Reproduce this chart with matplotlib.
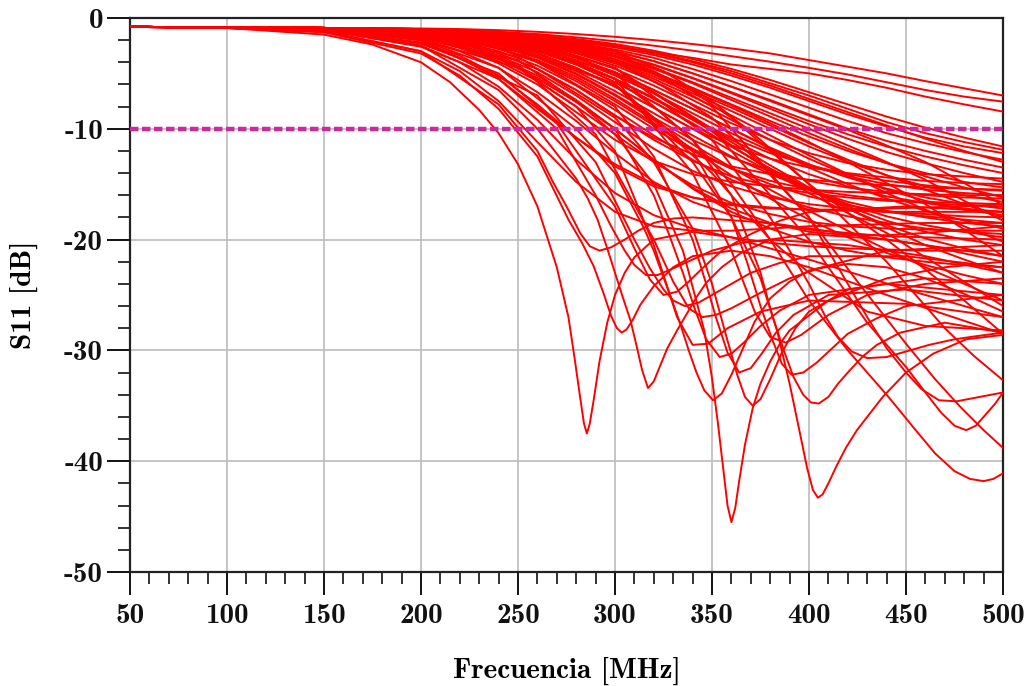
import numpy as np
import matplotlib.pyplot as plt
from matplotlib.ticker import MultipleLocator

plt.rcParams['font.family'] = 'cmb10'
plt.rcParams['axes.unicode_minus'] = False

# common frequency grid (MHz) for the smooth roll-off curves
freq_grid = [50, 100, 150, 200, 220, 240, 260, 280, 300, 320, 340, 360, 380, 400, 420, 440, 460, 480, 500]

# S11 (dB) of the curves that roll off and flatten, one row per curve
s11_bundle = [
    [-0.8, -0.85, -0.9, -0.95, -1.0, -1.1, -1.25, -1.45, -1.7, -2.0, -2.35, -2.75, -3.2, -3.8, -4.4, -5.0, -5.7, -6.35, -7.0],
    [-0.8, -0.85, -0.9, -1.0, -1.1, -1.25, -1.45, -1.75, -2.1, -2.5, -2.95, -3.45, -3.95, -4.5, -5.1, -5.8, -6.5, -7.1, -7.55],
    [-0.8, -0.85, -0.95, -1.1, -1.25, -1.5, -1.8, -2.2, -2.6, -3.1, -3.6, -4.2, -4.6, -5.0, -5.6, -6.3, -7.1, -7.8, -8.45],
    [-0.8, -0.9, -1.2, -3.0, -4.8, -7.5, -11.2, -14.8, -17.5, -18.8, -19.2, -19.2, -19.0, -18.8, -18.7, -18.6, -18.5, -18.5, -18.5],
    [-0.8, -0.9, -1.1, -2.6, -4.0, -6.2, -9.2, -12.8, -15.8, -17.8, -19.0, -19.8, -20.3, -20.6, -20.8, -20.9, -21.0, -21.0, -21.0],
    [-0.8, -0.9, -1.1, -2.2, -3.4, -5.2, -7.8, -10.8, -13.4, -15.2, -16.2, -16.8, -17.1, -17.3, -17.4, -17.5, -17.5, -17.5, -17.5],
    [-0.8, -0.85, -1.05, -2.0, -3.0, -4.5, -6.7, -9.3, -12.2, -14.8, -16.6, -17.8, -18.6, -19.1, -19.4, -19.7, -19.8, -19.9, -20.0],
    [-0.8, -0.85, -1.0, -1.8, -2.7, -4.1, -6.0, -8.5, -11.0, -12.9, -14.1, -14.8, -15.2, -15.5, -15.7, -15.8, -15.9, -16.0, -16.0],
    [-0.8, -0.85, -1.0, -1.7, -2.5, -3.7, -5.4, -7.6, -10.0, -12.8, -15.4, -17.5, -19.0, -20.2, -21.0, -21.6, -22.0, -22.3, -22.5],
    [-0.8, -0.85, -1.0, -1.6, -2.3, -3.4, -4.9, -7.0, -9.4, -11.8, -13.8, -15.2, -16.2, -16.8, -17.2, -17.5, -17.7, -17.9, -18.0],
    [-0.8, -0.85, -1.0, -1.5, -2.2, -3.2, -4.6, -6.5, -8.8, -10.8, -12.3, -13.4, -14.1, -14.6, -14.9, -15.1, -15.3, -15.4, -15.5],
    [-0.8, -0.85, -0.95, -1.5, -2.1, -3.0, -4.3, -6.1, -8.3, -10.6, -12.8, -14.6, -16.0, -17.1, -17.9, -18.5, -19.0, -19.3, -19.5],
    [-0.8, -0.85, -0.95, -1.4, -2.0, -2.8, -4.0, -5.7, -7.8, -10.0, -12.0, -13.6, -14.7, -15.5, -16.0, -16.4, -16.7, -16.9, -17.0],
    [-0.8, -0.85, -0.95, -1.4, -1.9, -2.7, -3.8, -5.3, -7.3, -9.5, -11.9, -14.2, -16.3, -18.2, -19.8, -21.2, -22.3, -23.2, -24.0],
    [-0.8, -0.85, -0.95, -1.3, -1.8, -2.5, -3.5, -5.0, -6.9, -9.0, -11.0, -12.6, -13.8, -14.7, -15.3, -15.7, -16.0, -16.2, -16.3],
    [-0.8, -0.85, -0.95, -1.3, -1.75, -2.4, -3.4, -4.8, -6.6, -8.6, -10.6, -12.5, -14.1, -15.5, -16.6, -17.4, -18.0, -18.5, -18.8],
    [-0.8, -0.85, -0.95, -1.25, -1.7, -2.3, -3.2, -4.5, -6.2, -8.1, -10.0, -11.5, -12.7, -13.5, -14.0, -14.4, -14.7, -14.9, -15.0],
    [-0.8, -0.85, -0.95, -1.2, -1.6, -2.2, -3.0, -4.2, -5.8, -7.6, -9.5, -11.6, -13.6, -15.4, -17.0, -18.3, -19.3, -20.0, -20.5],
    [-0.8, -0.85, -0.95, -1.2, -1.55, -2.1, -2.9, -4.0, -5.5, -7.2, -9.1, -11.0, -12.7, -14.1, -15.2, -16.1, -16.7, -17.2, -17.5],
    [-0.8, -0.85, -0.9, -1.15, -1.5, -2.0, -2.7, -3.8, -5.2, -6.8, -8.6, -10.4, -12.0, -13.3, -14.3, -15.0, -15.5, -15.8, -16.0],
    [-0.8, -0.85, -0.9, -1.15, -1.45, -1.9, -2.6, -3.6, -4.9, -6.5, -8.2, -10.0, -11.8, -13.5, -15.0, -16.3, -17.4, -18.3, -19.0],
    [-0.8, -0.85, -0.9, -1.1, -1.4, -1.85, -2.5, -3.4, -4.6, -6.1, -7.8, -9.5, -11.0, -12.2, -13.1, -13.7, -14.1, -14.3, -14.5],
    [-0.8, -0.85, -0.9, -1.1, -1.4, -1.8, -2.4, -3.2, -4.3, -5.7, -7.4, -9.2, -11.0, -12.7, -14.2, -15.5, -16.5, -17.3, -17.8],
    [-0.8, -0.85, -0.9, -1.1, -1.35, -1.7, -2.2, -3.0, -4.0, -5.3, -6.8, -8.4, -10.0, -11.6, -13.0, -14.2, -15.2, -16.0, -16.6],
    [-0.8, -0.85, -0.9, -1.05, -1.3, -1.65, -2.1, -2.8, -3.7, -4.9, -6.3, -7.8, -9.3, -10.7, -12.0, -13.1, -14.0, -14.8, -15.3],
    [-0.8, -0.85, -0.9, -1.05, -1.3, -1.6, -2.0, -2.6, -3.4, -4.5, -5.8, -7.2, -8.6, -10.0, -11.5, -13.0, -14.6, -16.5, -18.3],
    [-0.8, -0.85, -0.9, -1.05, -1.25, -1.55, -1.95, -2.5, -3.2, -4.2, -5.4, -6.7, -8.0, -9.3, -10.5, -11.6, -12.5, -13.3, -14.0],
    [-0.8, -0.85, -0.9, -1.0, -1.2, -1.5, -1.85, -2.35, -3.0, -3.9, -5.0, -6.2, -7.4, -8.7, -10.0, -11.1, -12.0, -12.8, -13.5],
    [-0.8, -0.85, -0.9, -1.0, -1.2, -1.45, -1.8, -2.25, -2.85, -3.6, -4.6, -5.7, -6.9, -8.1, -9.3, -10.4, -11.3, -12.1, -12.8],
    [-0.8, -0.85, -0.9, -1.0, -1.15, -1.4, -1.7, -2.1, -2.65, -3.35, -4.2, -5.2, -6.3, -7.5, -8.7, -9.8, -10.8, -11.6, -12.2],
    [-0.8, -0.85, -0.9, -1.0, -1.15, -1.35, -1.65, -2.0, -2.5, -3.1, -3.9, -4.8, -5.9, -7.0, -8.2, -9.4, -10.4, -11.2, -11.9],
    [-0.8, -0.85, -0.9, -1.0, -1.1, -1.3, -1.55, -1.9, -2.35, -2.95, -3.7, -4.6, -5.6, -6.7, -7.8, -8.9, -9.9, -10.8, -11.6],
    [-0.8, -0.85, -0.9, -1.0, -1.1, -1.3, -1.6, -2.0, -2.5, -3.2, -4.0, -5.0, -6.1, -7.3, -8.5, -9.7, -10.9, -12.0, -13.0],
    [-0.8, -0.85, -0.95, -1.3, -1.8, -2.5, -3.6, -5.1, -7.0, -9.2, -11.4, -13.5, -15.5, -17.4, -19.2, -20.9, -22.5, -24.0, -25.5],
    [-0.8, -0.85, -0.9, -1.2, -1.6, -2.1, -2.9, -4.0, -5.5, -7.3, -9.2, -11.2, -13.3, -15.3, -17.2, -18.9, -20.5, -21.8, -23.0],
    [-0.8, -0.85, -0.9, -1.1, -1.35, -1.7, -2.2, -2.9, -3.8, -5.0, -6.4, -7.9, -9.5, -11.2, -13.0, -14.9, -16.8, -19.1, -21.5],
    [-0.8, -0.9, -1.1, -2.3, -3.6, -5.5, -8.2, -10.8, -13.2, -15.0, -16.2, -16.9, -17.2, -17.3, -17.3, -17.2, -17.1, -17.0, -16.8],
    [-0.8, -0.85, -1.0, -1.75, -2.6, -3.9, -5.7, -8.0, -10.5, -13.0, -15.1, -16.7, -17.7, -18.4, -18.8, -19.0, -19.1, -19.2, -19.2],
    [-0.8, -0.85, -1.0, -1.55, -2.2, -3.2, -4.6, -6.5, -8.8, -11.0, -12.9, -14.3, -15.2, -15.8, -16.2, -16.5, -16.6, -16.7, -16.8],
    [-0.8, -0.85, -0.95, -1.4, -1.95, -2.75, -3.9, -5.5, -7.5, -9.7, -11.8, -13.6, -15.0, -16.1, -16.9, -17.5, -17.9, -18.2, -18.5],
    [-0.8, -0.85, -0.95, -1.25, -1.7, -2.3, -3.2, -4.5, -6.2, -8.1, -10.0, -12.0, -13.9, -15.5, -16.8, -17.9, -18.7, -19.3, -19.8],
    [-0.8, -0.85, -0.95, -1.2, -1.55, -2.1, -2.9, -4.0, -5.5, -7.3, -9.1, -10.8, -12.2, -13.3, -14.1, -14.7, -15.1, -15.4, -15.6],
    [-0.8, -0.85, -0.9, -1.15, -1.45, -1.9, -2.6, -3.6, -4.9, -6.5, -8.2, -10.0, -11.7, -13.2, -14.4, -15.4, -16.2, -16.8, -17.2],
    [-0.8, -0.85, -0.9, -1.1, -1.4, -1.75, -2.3, -3.1, -4.1, -5.5, -7.1, -8.8, -10.6, -12.4, -14.1, -15.8, -17.3, -18.8, -20.2],
    [-0.8, -0.85, -0.9, -1.1, -1.35, -1.7, -2.2, -2.9, -3.9, -5.1, -6.6, -8.1, -9.7, -11.3, -12.8, -14.2, -15.5, -16.8, -18.0],
    [-0.8, -0.85, -0.9, -1.05, -1.3, -1.6, -2.05, -2.7, -3.5, -4.6, -5.9, -7.4, -8.9, -10.4, -11.8, -13.1, -14.3, -15.3, -16.2],
    [-0.8, -0.85, -0.9, -1.05, -1.25, -1.55, -1.95, -2.5, -3.25, -4.25, -5.45, -6.8, -8.2, -9.6, -10.9, -12.1, -13.1, -14.0, -14.8],
    [-0.8, -0.85, -0.95, -1.25, -1.65, -2.2, -3.0, -4.2, -5.8, -7.6, -9.6, -11.6, -13.6, -15.5, -17.2, -18.7, -19.9, -20.8, -21.5],
    [-0.8, -0.85, -1.0, -1.7, -2.45, -3.6, -5.2, -7.4, -10.0, -12.8, -15.3, -17.2, -18.5, -19.3, -19.6, -19.6, -19.4, -19.1, -18.8],
    [-0.8, -0.85, -0.9, -1.0, -1.2, -1.5, -1.85, -2.35, -3.0, -3.9, -5.0, -6.2, -7.5, -8.8, -10.1, -11.5, -13.0, -14.9, -16.9],
    [-0.8, -0.85, -0.9, -1.05, -1.3, -1.6, -2.1, -2.8, -3.5, -4.8, -6.6, -9.0, -12.0, -15.0, -17.6, -20.0, -22.7, -25.5, -28.5],
    [-0.8, -0.85, -0.9, -1.1, -1.4, -1.8, -2.5, -3.6, -5.0, -6.8, -9.0, -11.5, -13.8, -15.8, -17.6, -19.4, -21.6, -23.8, -26.0],
]

# curves with a resonance dip: (frequencies MHz, S11 dB)
dip_curves = [
    ([50, 100, 150, 175, 200, 215, 230, 240, 250, 260, 270, 276, 279, 282, 284, 285.5, 287, 289, 292, 296, 300, 305, 310, 320, 340, 360, 400, 450, 500],
     [-0.8, -0.9, -1.5, -2.4, -4.0, -5.8, -8.3, -10.4, -13.2, -17.0, -22.5, -27.0, -30.5, -34.2, -36.6, -37.5, -36.6, -34.5, -31.0, -27.5, -25.0, -23.0, -21.6, -20.0, -19.3, -19.8, -21.8, -24.5, -27.0]),
    ([50, 100, 150, 200, 220, 240, 260, 276, 283, 289, 294, 298, 301, 303.5, 306, 309, 313, 320, 330, 340, 360, 380, 400, 440, 500],
     [-0.8, -0.9, -1.3, -3.2, -5.2, -8.2, -12.5, -18.2, -20.3, -22.4, -24.8, -26.9, -28.0, -28.4, -28.1, -27.3, -25.9, -24.2, -22.5, -21.5, -21.0, -21.5, -22.5, -25.0, -28.5]),
    ([50, 100, 150, 200, 240, 260, 280, 286, 291, 296, 300, 304, 308, 311, 314, 317, 320, 323, 327, 332, 337, 342, 347, 355, 365, 380, 400, 440, 500],
     [-0.8, -0.85, -1.1, -2.5, -6.5, -10.0, -14.5, -16.3, -18.2, -20.8, -23.0, -25.2, -27.3, -29.5, -31.8, -33.4, -32.8, -31.5, -29.8, -28.2, -26.7, -25.2, -23.9, -22.5, -21.2, -20.0, -19.5, -20.0, -21.5]),
    ([50, 100, 150, 200, 240, 280, 300, 315, 320, 325, 330, 334, 338, 342, 346, 350.5, 355, 360, 366, 372, 380, 390, 400, 440, 500],
     [-0.8, -0.85, -1.0, -2.0, -4.5, -10.0, -14.0, -19.0, -21.0, -23.4, -25.8, -27.8, -30.0, -32.0, -33.6, -34.5, -33.9, -32.2, -29.8, -27.4, -25.3, -23.8, -22.8, -21.0, -20.5]),
    ([50, 100, 150, 200, 240, 280, 300, 320, 335, 346, 350, 353, 356, 358, 360, 362, 364, 367, 371, 375, 380, 385, 390, 410, 440, 470, 500],
     [-0.8, -0.85, -0.95, -1.8, -3.5, -7.5, -10.5, -15.0, -21.0, -28.2, -32.5, -36.5, -41.0, -44.0, -45.5, -44.2, -41.8, -38.5, -35.2, -33.0, -31.0, -29.4, -28.2, -25.5, -23.5, -22.5, -22.0]),
    ([50, 100, 150, 200, 250, 300, 320, 340, 350, 357, 363, 367, 371, 375, 380, 386, 393, 400, 420, 460, 500],
     [-0.8, -0.85, -0.95, -1.6, -3.5, -9.0, -13.0, -19.0, -24.0, -28.5, -32.2, -34.2, -35.0, -34.4, -32.6, -30.2, -28.0, -26.5, -24.5, -23.5, -24.0]),
    ([50, 100, 150, 200, 250, 300, 340, 360, 375, 383.5, 390, 395, 399, 402, 404.6, 407, 410, 414, 419, 424.7, 438, 450, 464, 481, 500],
     [-0.8, -0.85, -0.9, -1.5, -2.5, -6.0, -13.0, -18.0, -23.5, -28.2, -33.0, -37.2, -40.6, -42.6, -43.3, -43.0, -42.0, -40.5, -38.8, -37.2, -34.2, -32.0, -30.3, -29.0, -28.6]),
    ([50, 100, 150, 200, 250, 300, 340, 360, 375, 381, 387, 392, 397, 401, 405, 410, 415, 421, 428, 435, 447, 470, 500],
     [-0.8, -0.85, -0.9, -1.4, -2.2, -5.0, -11.0, -16.0, -23.0, -26.8, -30.0, -32.4, -34.0, -34.7, -34.8, -34.2, -33.0, -31.8, -30.5, -29.5, -28.4, -27.5, -28.4]),
    ([50, 100, 150, 200, 250, 300, 320, 340, 360, 380, 400, 420, 440, 455, 465, 475, 483, 490, 495, 500],
     [-0.8, -0.85, -0.9, -1.2, -1.8, -5.5, -8.0, -11.0, -15.0, -20.0, -25.5, -30.0, -34.0, -37.2, -39.3, -40.9, -41.6, -41.8, -41.6, -41.1]),
    ([50, 100, 150, 200, 250, 300, 350, 400, 430, 450, 460, 468, 475, 481, 486, 491, 496, 500],
     [-0.8, -0.85, -0.9, -1.1, -1.8, -4.5, -10.0, -20.0, -27.5, -31.5, -33.8, -35.6, -36.8, -37.2, -36.8, -35.8, -34.8, -33.8]),
    ([50, 100, 150, 200, 250, 300, 325, 350, 375, 400, 420, 440, 455, 470, 485, 500],
     [-0.8, -0.85, -0.9, -1.1, -1.6, -3.0, -4.8, -7.5, -11.0, -15.0, -18.5, -22.0, -25.0, -28.0, -30.5, -32.7]),
    ([50, 100, 150, 200, 250, 300, 325, 350, 375, 400, 425, 450, 465, 478, 490, 500],
     [-0.8, -0.85, -0.9, -1.1, -1.7, -4.0, -6.2, -9.0, -13.2, -18.0, -23.8, -29.4, -32.6, -35.1, -37.2, -38.8]),
    ([50, 100, 150, 200, 240, 260, 268, 275, 282, 287, 292, 298, 305, 312, 320, 330, 340, 380, 420, 460, 500],
     [-0.8, -0.9, -1.2, -3.0, -7.8, -12.0, -14.8, -17.0, -19.4, -20.6, -21.0, -20.7, -20.0, -19.2, -18.5, -18.1, -18.0, -18.5, -19.5, -20.5, -22.0]),
    ([50, 100, 150, 200, 240, 270, 290, 298, 305, 310, 316, 322, 330, 340, 350, 365, 380, 420, 460, 500],
     [-0.8, -0.9, -1.1, -2.5, -5.5, -10.0, -16.0, -18.8, -21.0, -22.3, -23.2, -23.2, -22.6, -21.8, -21.0, -20.3, -20.0, -20.5, -21.5, -23.0]),
    ([50, 100, 150, 200, 250, 300, 320, 328, 335, 341, 347, 354, 360, 367, 375, 385, 400, 440, 500],
     [-0.8, -0.85, -0.95, -1.8, -3.8, -10.0, -16.0, -19.6, -23.0, -26.2, -29.0, -30.6, -30.3, -29.2, -27.8, -26.4, -25.0, -24.0, -25.0]),
    ([50, 100, 150, 200, 250, 300, 320, 340, 347, 352, 358, 364, 370, 376, 383, 392, 410, 450, 500],
     [-0.8, -0.85, -0.9, -1.5, -3.0, -8.0, -12.5, -20.0, -24.0, -27.0, -30.2, -32.0, -31.6, -30.2, -28.4, -26.8, -25.0, -24.5, -25.5]),
    ([50, 100, 150, 200, 250, 300, 340, 360, 368, 375, 381, 386, 391, 397, 404, 412, 420, 435, 450, 500],
     [-0.8, -0.85, -0.9, -1.3, -2.5, -6.0, -12.0, -18.0, -22.0, -26.0, -29.0, -31.2, -32.2, -32.0, -31.1, -29.8, -28.5, -27.1, -26.0, -25.0]),
    ([50, 100, 150, 200, 250, 300, 350, 380, 400, 408, 415, 422, 430, 440, 450, 462, 475, 487, 500],
     [-0.8, -0.85, -0.9, -1.2, -2.0, -4.5, -11.0, -18.0, -24.0, -26.8, -28.8, -30.1, -30.7, -30.6, -30.1, -29.5, -29.0, -28.7, -28.4]),
    ([50, 100, 150, 200, 250, 300, 350, 400, 430, 440, 450, 458, 467, 476, 485, 500],
     [-0.8, -0.85, -0.9, -1.05, -1.5, -3.0, -8.0, -18.0, -27.0, -29.8, -32.0, -33.5, -34.5, -34.6, -34.3, -33.8]),
    ([50, 100, 150, 200, 260, 290, 310, 318, 325, 330, 336, 343, 350, 360, 370, 385, 400, 450, 500],
     [-0.8, -0.85, -1.0, -2.0, -7.0, -13.0, -20.0, -22.6, -24.5, -25.5, -26.0, -25.7, -25.0, -24.0, -23.0, -22.1, -21.5, -21.5, -22.5]),
    ([50, 100, 150, 200, 250, 290, 320, 330, 338, 345, 352, 360, 375, 390, 405, 420, 440, 460, 480, 500],
     [-0.8, -0.85, -0.95, -1.7, -4.2, -10.5, -20.0, -23.8, -26.2, -27.0, -26.8, -26.2, -24.8, -23.5, -22.6, -22.2, -22.5, -23.5, -24.9, -26.5]),
    ([50, 100, 150, 200, 240, 270, 300, 310, 318, 325, 332, 338, 345, 355, 370, 385, 400, 450, 500],
     [-0.8, -0.9, -1.1, -2.3, -5.0, -9.5, -17.0, -20.8, -23.6, -25.0, -24.7, -23.8, -22.6, -21.0, -19.5, -18.3, -17.5, -17.0, -17.5]),
    ([50, 100, 150, 200, 250, 300, 340, 360, 372, 380, 388, 396, 410, 430, 460, 500],
     [-0.8, -0.85, -0.9, -1.2, -2.2, -5.5, -14.0, -21.0, -26.5, -28.8, -29.3, -28.6, -26.8, -25.0, -24.0, -23.5]),
    ([50, 100, 150, 200, 250, 280, 300, 320, 332, 340, 348, 358, 375, 400, 450, 500],
     [-0.8, -0.85, -1.0, -1.9, -4.5, -8.0, -12.0, -20.5, -27.0, -29.5, -29.4, -28.0, -26.5, -25.5, -25.8, -27.0]),
    ([50, 100, 150, 200, 250, 300, 350, 380, 400, 430, 460, 500],
     [-0.8, -0.85, -0.95, -1.4, -2.8, -6.0, -14.0, -20.0, -23.0, -26.5, -27.8, -28.2]),
]

limit_db = -10

x_ticks = [50, 100, 150, 200, 250, 300, 350, 400, 450, 500]
y_ticks = [0, -10, -20, -30, -40, -50]
y_ticklabels = ['0', '-10', '-20', '-30', '-40', '-50']

fig = plt.figure(figsize=(10.3, 6.86), dpi=100)
ax = fig.add_axes([0.1262, 0.1662, 0.8476, 0.8076])

for row in s11_bundle:
    ax.plot(freq_grid, row, color='#ff0000', lw=1.4, zorder=3)
for f, v in dip_curves:
    ax.plot(f, v, color='#ff0000', lw=1.4, zorder=3)

ax.axhline(limit_db, color='#cc2a9c', lw=3.2, dashes=(1.9, 0.8), zorder=5)

ax.set_xlim(50, 500)
ax.set_ylim(-50, 0)
ax.set_xticks(x_ticks)
ax.set_xticklabels([str(t) for t in x_ticks])
ax.set_yticks(y_ticks)
ax.set_yticklabels(y_ticklabels)
ax.xaxis.set_minor_locator(MultipleLocator(10))
ax.yaxis.set_minor_locator(MultipleLocator(2))
ax.grid(True, which='major', color='#c0c0c0', lw=1.3, zorder=0)
ax.set_axisbelow(True)

ax.tick_params(which='major', direction='out', length=16.5, width=1.4, labelsize=21, colors='#111111')
ax.tick_params(which='minor', direction='out', length=8.5, width=1.2, colors='#111111')
ax.tick_params(axis='x', which='major', pad=6)
ax.tick_params(axis='y', which='major', pad=3)
for s in ax.spines.values():
    s.set_linewidth(1.6)
    s.set_color('#222222')

ax.set_xlabel('Frecuencia [MHz]', fontsize=21, labelpad=20)
ax.set_ylabel('S11 [dB]', fontsize=21, labelpad=19)

fig.savefig('out.png', dpi=100)
